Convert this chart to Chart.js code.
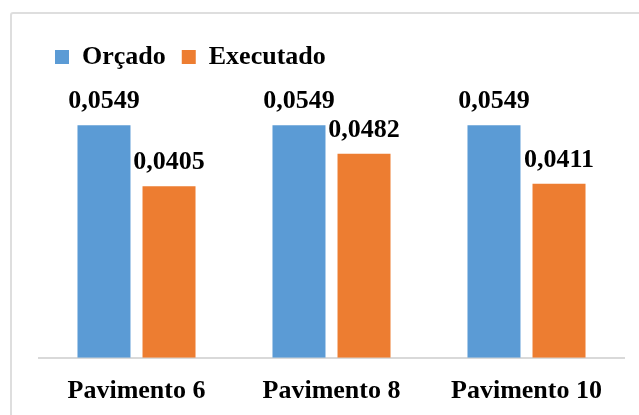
<!DOCTYPE html>
<html lang="pt">
<head>
<meta charset="utf-8">
<script src="https://cdn.jsdelivr.net/npm/chart.js@4/dist/chart.umd.min.js"></script>
<style>
    html, body { margin: 0; padding: 0; background: #fff; }
    #marco {
        position: absolute; left: 10px; top: 12px;
        width: 700px; height: 500px;
        border: 2px solid #dedede; border-radius: 3px;
    }
    #contenedor { position: absolute; left: 0; top: 0; width: 639px; height: 415px; }
</style>
</head>
<body>
<div id="marco"></div>
<div id="contenedor"><canvas id="grafico"></canvas></div>
<script>
// Dados do gráfico
const pavimentos = ['Pavimento 6', 'Pavimento 8', 'Pavimento 10'];
const orcado = [0.0549, 0.0549, 0.0549];
const executado = [0.0405, 0.0482, 0.0411];

const fonte = "'Liberation Serif', 'Times New Roman', serif";

// Rótulos de valor acima de cada barra (formato com vírgula)
const rotulosValor = {
    id: 'rotulosValor',
    afterDatasetsDraw(chart) {
        const ctx = chart.ctx;
        ctx.save();
        ctx.font = 'bold 26px ' + fonte;
        ctx.fillStyle = '#000';
        ctx.textAlign = 'center';
        ctx.textBaseline = 'alphabetic';
        chart.data.datasets.forEach((ds, i) => {
            chart.getDatasetMeta(i).data.forEach((barra, j) => {
                const texto = ds.data[j].toFixed(4).replace('.', ',');
                ctx.fillText(texto, barra.x, barra.y - 17);
            });
        });
        ctx.restore();
    }
};

const ctx = document.getElementById('grafico').getContext('2d');
new Chart(ctx, {
    type: 'bar',
    data: {
        labels: pavimentos,
        datasets: [
            { label: 'Orçado', data: orcado, backgroundColor: '#5b9bd5' },
            { label: 'Executado', data: executado, backgroundColor: '#ed7d31' }
        ]
    },
    options: {
        responsive: true,
        maintainAspectRatio: false,
        animation: false,
        categoryPercentage: 0.667,
        barPercentage: 0.815,
        layout: { padding: { left: 39, right: 15, top: 28, bottom: -10 } },
        plugins: {
            legend: {
                position: 'top',
                align: 'start',
                labels: {
                    boxWidth: 14,
                    boxHeight: 14,
                    padding: 16,
                    color: '#000',
                    font: { family: fonte, size: 26, weight: 700 }
                }
            },
            tooltip: { enabled: false }
        },
        scales: {
            x: {
                grid: { display: false, drawTicks: false },
                border: { display: true, color: '#d9d9d9', width: 2 },
                ticks: {
                    color: '#000',
                    padding: 18,
                    font: { family: fonte, size: 26, weight: 700 }
                }
            },
            y: {
                display: false,
                min: 0,
                max: 0.0656
            }
        }
    },
    plugins: [rotulosValor]
});
</script>
</body>
</html>
